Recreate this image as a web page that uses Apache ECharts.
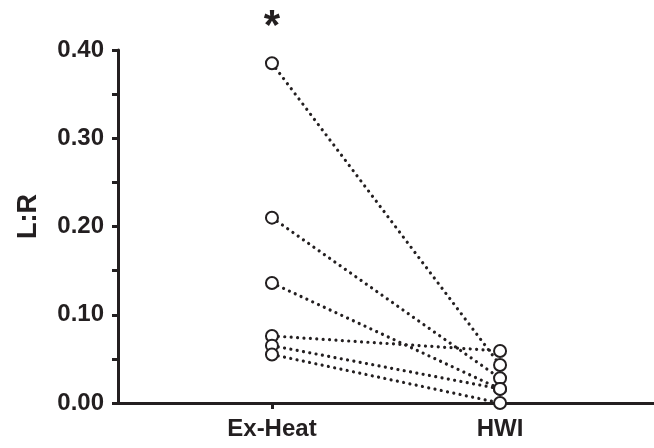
<!DOCTYPE html>
<html>
<head>
<meta charset="utf-8">
<script src="https://cdn.jsdelivr.net/npm/echarts@6/dist/echarts.min.js"></script>
<style>
  html, body { margin: 0; padding: 0; background: #fff; }
  #chart { width: 654px; height: 448px; }
</style>
</head>
<body>
<div id="chart"></div>
<script>
var groups = ['Ex-Heat', 'HWI'];
var exHeat = [0.385, 0.21, 0.136, 0.076, 0.065, 0.055];
var hwi = [0.043, 0.028, 0.016, 0.059, 0.016, 0.0];
var marks = ['*', '', '', '', '', ''];
var yTicks = [0, 0.1, 0.2, 0.3, 0.4];

var ink = '#231f20';
var font = '"Liberation Sans", Arial, sans-serif';

var series = exHeat.map(function (v, i) {
    return {
        type: 'line',
        symbol: 'emptyCircle',
        symbolSize: 12,
        itemStyle: { color: ink, borderColor: ink, borderWidth: 3 },
        lineStyle: { color: ink, width: 3.2, type: [0.01, 6.4], cap: 'round' },
        data: [
            {
                value: [0, v],
                label: {
                    show: marks[i] !== '',
                    formatter: marks[i],
                    position: 'top',
                    distance: 8,
                    color: ink,
                    fontFamily: font,
                    fontWeight: 'bold',
                    fontSize: 42
                }
            },
            [1, hwi[i]]
        ],
        z: 3 + i,
        animation: false
    };
});

var chart = echarts.init(document.getElementById('chart'));
chart.setOption({
    grid: { left: 118, right: 0, top: 50, bottom: 45 },
    xAxis: {
        type: 'value',
        min: -0.675,
        max: 1.675,
        splitLine: { show: false },
        axisLine: { show: true, lineStyle: { color: ink, width: 3 } },
        axisTick: { show: true, customValues: [0, 1], length: 6, lineStyle: { color: ink, width: 3 } },
        axisLabel: {
            customValues: [0, 1],
            formatter: function (v) { return groups[Math.round(v)]; },
            margin: 14,
            color: ink,
            fontFamily: font,
            fontWeight: 'bold',
            fontSize: 24
        }
    },
    yAxis: {
        type: 'value',
        min: yTicks[0],
        max: yTicks[yTicks.length - 1],
        interval: 0.1,
        name: 'L:R',
        nameLocation: 'middle',
        nameGap: 76,
        nameTextStyle: { color: ink, fontFamily: font, fontWeight: 'bold', fontSize: 27, padding: [0, 0, 0, 20] },
        splitLine: { show: false },
        axisLine: { show: true, onZero: false, lineStyle: { color: ink, width: 3 } },
        axisTick: { show: true, length: 6, lineStyle: { color: ink, width: 3 } },
        minorTick: { show: true, splitNumber: 2, length: 6, lineStyle: { color: ink, width: 3 } },
        axisLabel: {
            formatter: function (v) { return v.toFixed(2); },
            margin: 14,
            color: ink,
            fontFamily: font,
            fontWeight: 'bold',
            fontSize: 24
        }
    },
    series: series
});
window.addEventListener('resize', function () {
    chart.resize();
});
</script>
</body>
</html>
